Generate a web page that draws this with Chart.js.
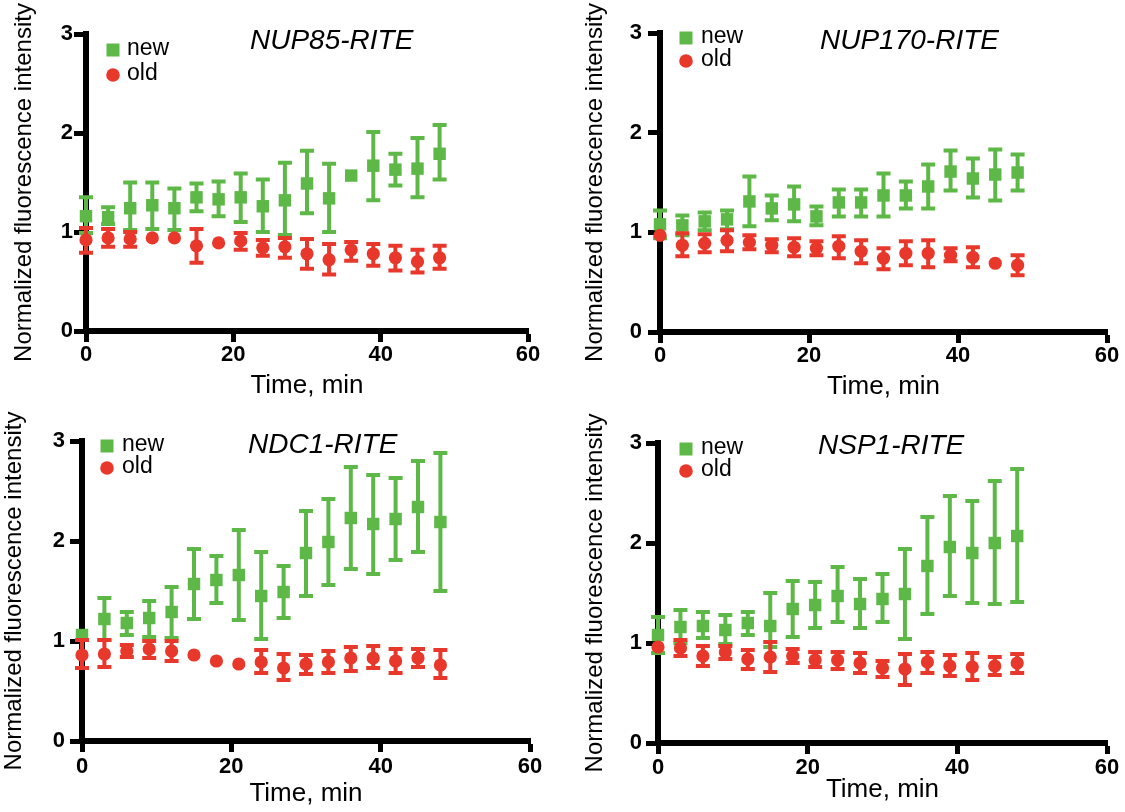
<!DOCTYPE html>
<html><head><meta charset="utf-8">
<script src="https://cdn.jsdelivr.net/npm/chart.js@4.4.1/dist/chart.umd.min.js"></script>
<style>
html,body{margin:0;padding:0;background:#fff;width:1125px;height:812px;overflow:hidden;position:relative}
canvas{position:absolute}
</style></head><body>
<canvas id="c1"></canvas><canvas id="c2"></canvas><canvas id="c3"></canvas><canvas id="c4"></canvas>
<script>
// ---------- data ----------
const times = [0,3,6,9,12,15,18,21,24,27,30,33,36,39,42,45,48];
const xTicks = [0,20,40,60];
const yTicks = [0,1,2,3];
const titles = ['NUP85-RITE','NUP170-RITE','NDC1-RITE','NSP1-RITE'];
const seriesLabels = ['new','old'];
const xTitle = 'Time, min';
const yTitle = 'Normalized fluorescence intensity';

// NUP85-RITE
const nup85New   = [1.16,1.15,1.24,1.27,1.24,1.35,1.33,1.35,1.26,1.32,1.49,1.34,1.57,1.67,1.63,1.64,1.79];
const nup85NewHi = [1.35,1.25,1.50,1.50,1.44,1.49,1.51,1.59,1.53,1.70,1.82,1.69,null,2.01,1.79,1.95,2.08];
const nup85NewLo = [0.99,1.08,1.02,1.03,1.02,1.21,1.16,1.10,1.00,0.97,1.19,1.00,null,1.32,1.47,1.35,1.53];
const nup85Old   = [0.92,0.94,0.93,0.94,0.94,0.86,0.89,0.91,0.84,0.85,0.78,0.72,0.82,0.78,0.74,0.70,0.74];
const nup85OldHi = [1.04,1.03,1.00,null,null,1.03,null,0.99,0.92,0.94,0.93,0.88,0.90,0.88,0.86,0.82,0.86];
const nup85OldLo = [0.79,0.85,0.85,null,null,0.69,null,0.82,0.76,0.74,0.63,0.57,0.71,0.66,0.61,0.59,0.63];

// NUP170-RITE
const nup170New   = [1.08,1.07,1.11,1.13,1.31,1.24,1.28,1.16,1.30,1.30,1.37,1.37,1.46,1.61,1.54,1.58,1.60];
const nup170NewHi = [1.22,1.17,1.20,1.22,1.56,1.37,1.46,1.26,1.43,1.43,1.59,1.51,1.68,1.82,1.74,1.83,1.78];
const nup170NewLo = [0.94,0.97,1.02,1.03,1.06,1.12,1.11,1.07,1.16,1.16,1.16,1.24,1.24,1.42,1.35,1.32,1.42];
const nup170Old   = [0.97,0.87,0.89,0.92,0.90,0.87,0.85,0.84,0.86,0.81,0.74,0.79,0.79,0.77,0.75,0.69,0.67];
const nup170OldHi = [null,0.99,0.98,1.02,0.97,0.93,0.94,0.91,0.96,0.92,0.84,0.91,0.92,0.84,0.85,null,0.77];
const nup170OldLo = [null,0.76,0.80,0.81,0.83,0.80,0.76,0.77,0.74,0.69,0.63,0.67,0.65,0.71,0.65,null,0.57];

// NDC1-RITE
const ndc1New   = [1.06,1.22,1.18,1.23,1.29,1.57,1.61,1.66,1.45,1.49,1.88,1.99,2.23,2.17,2.22,2.34,2.19];
const ndc1NewHi = [null,1.43,1.29,1.40,1.54,1.92,1.85,2.11,1.89,1.75,2.30,2.42,2.74,2.66,2.63,2.80,2.88];
const ndc1NewLo = [null,1.01,1.06,1.04,1.03,1.22,1.38,1.21,1.02,1.23,1.45,1.56,1.72,1.67,1.81,1.89,1.50];
const ndc1Old   = [0.86,0.87,0.90,0.92,0.90,0.86,0.80,0.77,0.79,0.73,0.77,0.79,0.83,0.83,0.80,0.83,0.76];
const ndc1OldHi = [1.01,1.01,0.96,1.00,1.00,null,null,null,0.91,0.87,0.86,0.90,0.94,0.95,0.92,0.92,0.91];
const ndc1OldLo = [0.73,0.74,0.84,0.83,0.80,null,null,null,0.68,0.61,0.67,0.68,0.70,0.73,0.68,0.74,0.63];

// NSP1-RITE
const nsp1New   = [1.08,1.16,1.17,1.13,1.20,1.17,1.34,1.38,1.47,1.39,1.44,1.49,1.77,1.96,1.90,2.00,2.07];
const nsp1NewHi = [1.26,1.33,1.31,1.28,1.31,1.50,1.62,1.61,1.76,1.64,1.69,1.94,2.26,2.47,2.42,2.62,2.74];
const nsp1NewLo = [0.90,1.00,1.05,0.99,1.08,0.96,1.06,1.15,1.21,1.15,1.21,1.04,1.29,1.47,1.40,1.39,1.41];
const nsp1Old   = [0.96,0.95,0.87,0.91,0.84,0.86,0.87,0.83,0.83,0.80,0.75,0.74,0.81,0.77,0.76,0.77,0.80];
const nsp1OldHi = [null,1.03,0.97,0.97,0.93,1.01,0.94,0.91,0.91,0.90,0.82,0.89,0.91,0.88,0.90,0.86,0.89];
const nsp1OldLo = [null,0.87,0.77,0.84,0.74,0.71,0.80,0.76,0.74,0.70,0.66,0.58,0.70,0.67,0.63,0.68,0.70];

// ---------- style ----------
const FONT = '"Liberation Sans", Arial, Helvetica, sans-serif';
const GREEN = '#5db847';
const RED = '#e8382b';
Chart.defaults.font.family = FONT;
Chart.defaults.color = '#000';

// error bars, in-plot title and legend
const panelDecor = {
  id: 'panelDecor',
  afterDatasetDraw(chart, args) {
    const ds = chart.data.datasets[args.index];
    if (!ds.errLow) return;
    const xs = chart.scales.x, ys = chart.scales.y, ctx = chart.ctx;
    const cap = 7;
    ctx.save();
    ctx.strokeStyle = ds.backgroundColor;
    ctx.lineWidth = 4;
    ctx.lineCap = 'butt';
    ds.data.forEach((p, i) => {
      const lo = ds.errLow[i], hi = ds.errHigh[i];
      if (lo == null || hi == null) return;
      const px = xs.getPixelForValue(p.x);
      const pl = ys.getPixelForValue(lo), ph = ys.getPixelForValue(hi);
      ctx.beginPath();
      ctx.moveTo(px, pl); ctx.lineTo(px, ph);
      ctx.moveTo(px - cap, pl); ctx.lineTo(px + cap, pl);
      ctx.moveTo(px - cap, ph); ctx.lineTo(px + cap, ph);
      ctx.stroke();
    });
    ctx.restore();
  },
  afterDraw(chart, args, o) {
    const ctx = chart.ctx, a = chart.chartArea;
    ctx.save();
    ctx.fillStyle = '#000';
    ctx.textBaseline = 'middle';
    ctx.textAlign = 'left';
    ctx.font = 'italic 28px ' + FONT;
    ctx.fillText(o.title, a.left + o.tx, a.top + o.ty);
    ctx.font = '23px ' + FONT;
    chart.data.datasets.forEach((ds, i) => {
      const y = a.top + o.ly[i];
      const mx = a.left + o.mx;
      ctx.fillStyle = ds.backgroundColor;
      ctx.beginPath();
      if (ds.pointStyle === 'rect') ctx.rect(mx - 6.5, y - 6.5, 13, 13);
      else ctx.arc(mx, y, 6.8, 0, Math.PI * 2);
      ctx.fill();
      ctx.fillStyle = '#000';
      ctx.fillText(ds.label, a.left + o.lx, y - 1);
    });
    ctx.restore();
  }
};

function makePanel(id, L, title, nv, nlo, nhi, ov, olo, ohi) {
  const cv = document.getElementById(id);
  const b = L.box, ar = L.area;
  cv.width = b.w; cv.height = b.h;
  cv.style.left = b.x + 'px'; cv.style.top = b.y + 'px';
  cv.style.width = b.w + 'px'; cv.style.height = b.h + 'px';
  const yW = ar.l - b.x, xH = b.y + b.h - ar.b;
  new Chart(cv, {
    type: 'scatter',
    data: {
      datasets: [
        { label: seriesLabels[0], data: times.map((t, i) => ({x: t, y: nv[i]})),
          errLow: nlo, errHigh: nhi, pointStyle: 'rect', pointRadius: 8.8, pointHoverRadius: 8.8,
          backgroundColor: GREEN, borderColor: GREEN, borderWidth: 0, order: 1, clip: false },
        { label: seriesLabels[1], data: times.map((t, i) => ({x: t, y: ov[i]})),
          errLow: olo, errHigh: ohi, pointStyle: 'circle', pointRadius: 6.6, pointHoverRadius: 6.6,
          backgroundColor: RED, borderColor: RED, borderWidth: 0, order: 0, clip: false }
      ]
    },
    options: {
      responsive: false, animation: false, devicePixelRatio: 1,
      events: [],
      layout: { padding: { left: 0, top: ar.t - b.y, right: b.x + b.w - ar.r, bottom: 0 } },
      plugins: {
        legend: { display: false }, tooltip: { enabled: false },
        panelDecor: { title: title, tx: L.tx, ty: L.ty, mx: L.mx, lx: L.lx, ly: L.ly }
      },
      scales: {
        x: {
          type: 'linear', min: 0, max: 60,
          afterBuildTicks: s => { s.ticks = xTicks.map(v => ({value: v})); },
          afterFit: s => { s.height = xH; },
          border: { display: true, color: '#000', width: 6 },
          grid: { display: true, drawOnChartArea: false, drawTicks: true, tickLength: 11, tickWidth: 5, tickColor: '#000' },
          ticks: { color: '#000', font: { family: FONT, size: 22, weight: 'bold' }, padding: L.xtp, maxRotation: 0, autoSkip: false },
          title: { display: true, text: xTitle, color: '#000', font: { family: FONT, size: 26 }, padding: { top: 0, bottom: L.xtitle } }
        },
        y: {
          type: 'linear', min: 0, max: 3,
          afterBuildTicks: s => { s.ticks = yTicks.map(v => ({value: v})); },
          afterFit: s => { s.width = yW; },
          border: { display: true, color: '#000', width: 6 },
          grid: { display: true, drawOnChartArea: false, drawTicks: true, tickLength: 12, tickWidth: 5, tickColor: '#000' },
          ticks: { color: '#000', font: { family: FONT, size: 22, weight: 'bold' }, padding: L.ytp, autoSkip: false },
          title: { display: true, text: yTitle, color: '#000', font: { family: FONT, size: 24 }, padding: { top: L.ytitle, bottom: 0 } }
        }
      }
    },
    plugins: [panelDecor]
  });
}

const L1 = { box: {x:0,   y:0,   w:562, h:410}, area: {l:86,  r:528,  t:34,  b:331}, xtp:0, ytp:1, xtitle:9,  ytitle:10, tx:164, ty:7, mx:27, lx:41, ly:[16,41] };
const L2 = { box: {x:562, y:0,   w:563, h:410}, area: {l:660, r:1107, t:33,  b:332}, xtp:0, ytp:6, xtitle:8,  ytitle:19, tx:160, ty:8, mx:26, lx:41, ly:[5,28] };
const L3 = { box: {x:0,   y:400, w:562, h:412}, area: {l:82,  r:530,  t:441, b:741}, xtp:2, ytp:5, xtitle:3,  ytitle:0,  tx:166, ty:4, mx:25, lx:40, ly:[5,27] };
const L4 = { box: {x:562, y:400, w:563, h:412}, area: {l:658, r:1107, t:443, b:743}, xtp:1, ytp:4, xtitle:7,  ytitle:19, tx:160, ty:3, mx:28, lx:43, ly:[6,28] };

makePanel('c1', L1, titles[0], nup85New, nup85NewLo, nup85NewHi, nup85Old, nup85OldLo, nup85OldHi);
makePanel('c2', L2, titles[1], nup170New, nup170NewLo, nup170NewHi, nup170Old, nup170OldLo, nup170OldHi);
makePanel('c3', L3, titles[2], ndc1New, ndc1NewLo, ndc1NewHi, ndc1Old, ndc1OldLo, ndc1OldHi);
makePanel('c4', L4, titles[3], nsp1New, nsp1NewLo, nsp1NewHi, nsp1Old, nsp1OldLo, nsp1OldHi);
</script>
</body></html>
